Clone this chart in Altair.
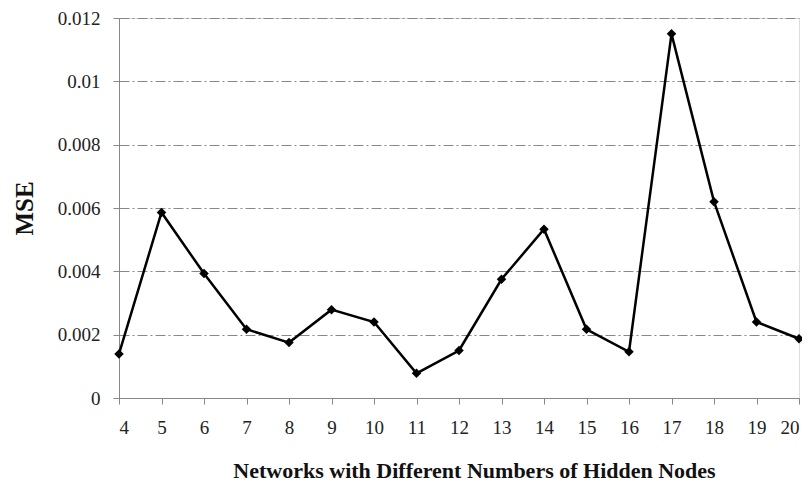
import altair as alt
import pandas as pd

nodes = [4, 5, 6, 7, 8, 9, 10, 11, 12, 13, 14, 15, 16, 17, 18, 19, 20]
mse = [0.00139, 0.00586, 0.00393, 0.00217, 0.00175, 0.00279, 0.0024, 0.00078,
       0.0015, 0.00375, 0.00533, 0.00217, 0.00146, 0.0115, 0.0062, 0.0024, 0.00187]
y_ticks = [0, 0.002, 0.004, 0.006, 0.008, 0.01, 0.012]

df = pd.DataFrame({"nodes": nodes, "mse": mse})

FONT = "Liberation Serif"

x = alt.X("nodes:Q",
          scale=alt.Scale(domain=[4, 20], nice=False, zero=False),
          axis=alt.Axis(values=nodes, title="Networks with Different Numbers of Hidden Nodes",
                        grid=False, tickSize=6, labelPadding=14, labelFontSize=19,
                        labelFont=FONT, labelColor="#222", domainColor="#888", tickColor="#888",
                        titleFont=FONT, titleFontSize=22, titleFontWeight="bold", titleColor="#111",
                        titleX=355, titleY=72, titleBaseline="middle", titleAnchor="middle",
                        titleAlign="center"))
y = alt.Y("mse:Q",
          scale=alt.Scale(domain=[0, 0.012], nice=False),
          axis=alt.Axis(values=y_ticks, format="~g", title="MSE",
                        grid=True, gridColor="#888", gridDash=[10, 3, 2, 3], gridWidth=1,
                        tickSize=6, labelPadding=13, labelFontSize=19, labelFont=FONT,
                        labelColor="#222", domainColor="#888", tickColor="#888",
                        titleFont=FONT, titleFontSize=25, titleFontWeight="bold", titleColor="#111",
                        titleAngle=270, titleX=-95, titleY=190, titleBaseline="middle",
                        titleAlign="center"))

line = alt.Chart(df).mark_line(color="black", strokeWidth=2.5).encode(x=x, y=y)
pts = alt.Chart(df).mark_point(shape="diamond", filled=True, color="black", size=90, opacity=1).encode(x=x, y=y)

chart = (line + pts).properties(
    width=680, height=380,
    autosize=alt.AutoSizeParams(type="none"),
    padding={"left": 111, "top": 10, "right": 3, "bottom": 86},
).configure_view(stroke="#888", strokeWidth=1).configure(background="white")

chart.save("out.html", embed_options={"renderer": "svg", "actions": False})
